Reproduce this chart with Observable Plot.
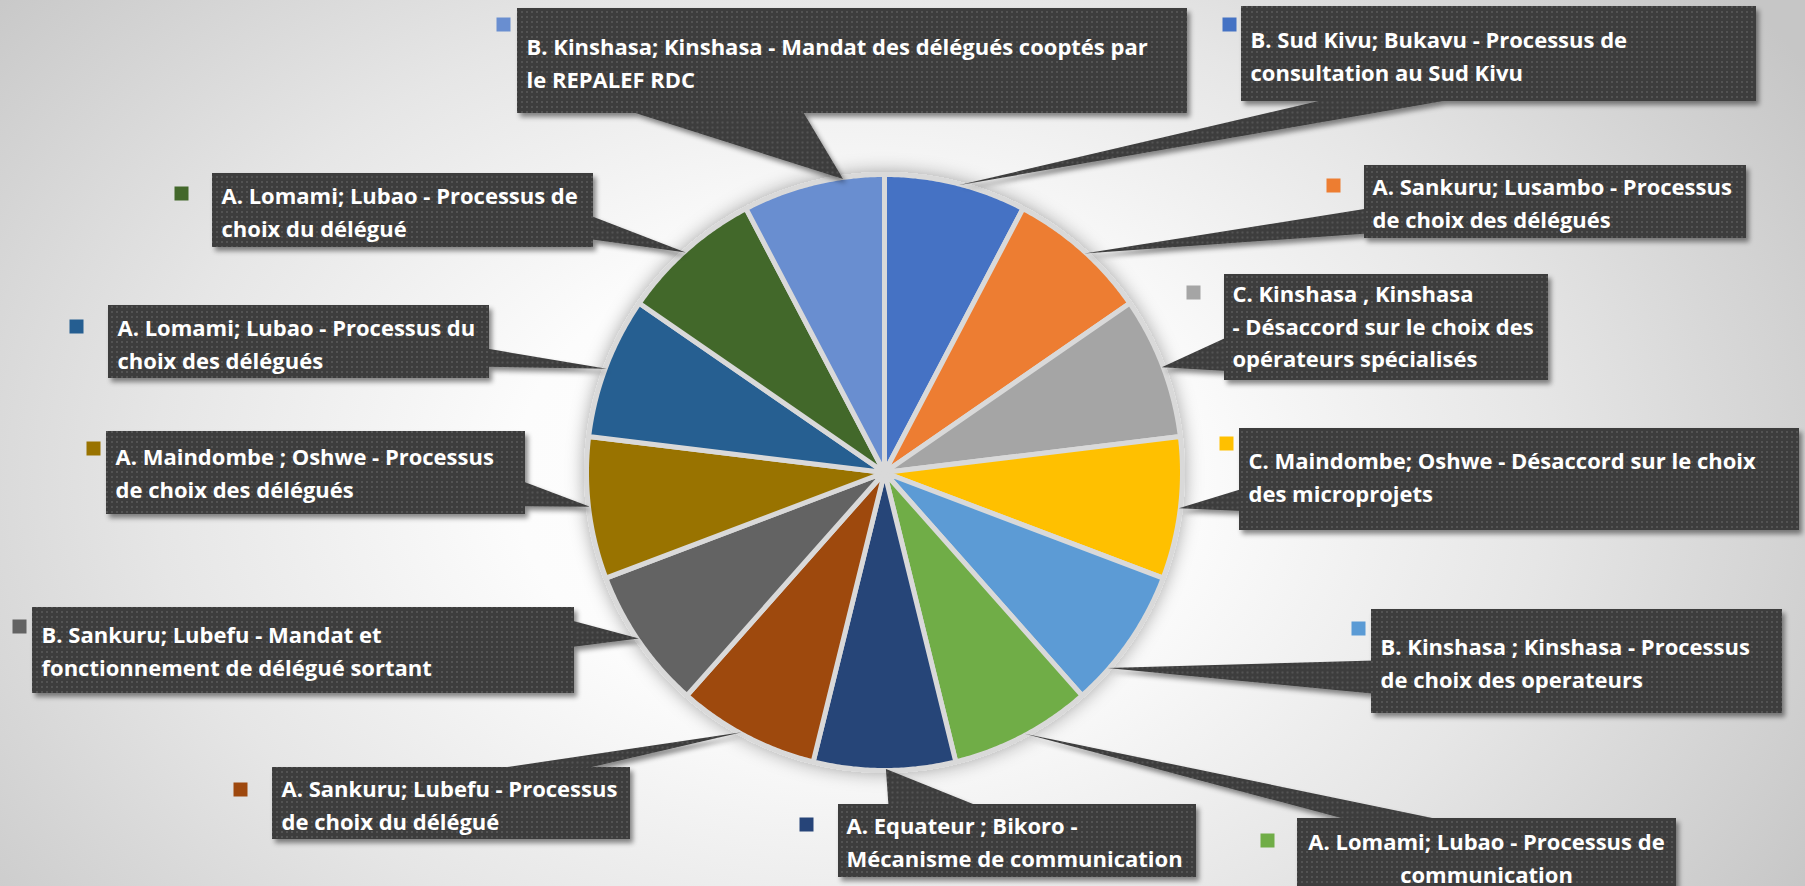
<!DOCTYPE html>
<html>
<head>
<meta charset="utf-8">
<script src="https://cdn.jsdelivr.net/npm/d3@7"></script>
<script src="https://cdn.jsdelivr.net/npm/@observablehq/plot@0.6"></script>
<style>
  html, body { margin: 0; padding: 0; width: 1805px; height: 886px; overflow: hidden; }
  body {
    background: radial-gradient(ellipse 1120px 800px at 850px 480px, #ffffff 0%, #fcfcfc 30%, #e6e6e6 62%, #c6c6c6 100%);
  }
  #chart svg { display: block; }
</style>
</head>
<body>
<div id="chart"></div>
<script>
// ---- data ----
const labels = [
  "B. Sud Kivu; Bukavu - Processus de\nconsultation au Sud Kivu",
  "A. Sankuru; Lusambo - Processus\nde choix des délégués",
  "C. Kinshasa , Kinshasa\n- Désaccord sur le choix des\nopérateurs spécialisés",
  "C. Maindombe; Oshwe - Désaccord sur le choix\ndes microprojets",
  "B. Kinshasa ; Kinshasa - Processus\nde choix des operateurs",
  "A. Lomami; Lubao - Processus de\ncommunication",
  "A. Equateur ; Bikoro -\nMécanisme de communication",
  "A. Sankuru; Lubefu - Processus\nde choix du délégué",
  "B. Sankuru; Lubefu - Mandat et\nfonctionnement de délégué sortant",
  "A. Maindombe ; Oshwe - Processus\nde choix des délégués",
  "A. Lomami; Lubao - Processus du\nchoix des délégués",
  "A. Lomami; Lubao - Processus de\nchoix du délégué",
  "B. Kinshasa; Kinshasa - Mandat des délégués cooptés par\nle REPALEF RDC"
];
const values = [1, 1, 1, 1, 1, 1, 1, 1, 1, 1, 1, 1, 1];
const colors = ["#4472C4", "#ED7D31", "#A5A5A5", "#FFC000", "#5B9BD5", "#70AD47",
                "#264478", "#9E480E", "#636363", "#997300", "#255E91", "#43682B", "#698ED0"];

// ---- callout layout (annotation placement, pixels) ----
const layout = [
  {box: [1241, 6, 1756, 101],   sq: [1229, 24],  tx: 1250, ty: 40,  side: "bottom", f: [0.17, 0.42], tip: 0.52},
  {box: [1364, 165, 1746, 238], sq: [1333, 185], tx: 1372, ty: 187, side: "left",   f: [0.59, 0.93], tip: 0.53},
  {box: [1224, 274, 1548, 380], sq: [1193, 292], tx: 1232, ty: 294, side: "left",   f: [0.59, 0.91], tip: 0.50},
  {box: [1239, 428, 1799, 530], sq: [1226, 443], tx: 1248, ty: 461, side: "left",   f: [0.59, 0.81], tip: 0.50},
  {box: [1371, 609, 1782, 713], sq: [1358, 628], tx: 1380, ty: 647, side: "left",   f: [0.49, 0.81], tip: 0.74},
  {box: [1297, 818, 1676, 905], sq: [1267, 840], tx: 1486, ty: 842, side: "top",    f: [0.15, 0.40], tip: 0.48, center: true},
  {box: [838, 804, 1196, 877],  sq: [806, 824],  tx: 846,  ty: 826, side: "top",    f: [0.14, 0.40], tip: 0.49},
  {box: [272, 767, 630, 839],   sq: [240, 789],  tx: 281,  ty: 789, side: "top",    f: [0.59, 0.85], tip: 0.54},
  {box: [32, 607, 574, 693],    sq: [19, 626],   tx: 41,   ty: 635, side: "right",  f: [0.15, 0.46], tip: 0.52},
  {box: [106, 431, 525, 514],   sq: [93, 448],   tx: 115,  ty: 457, side: "right",  f: [0.60, 0.90], tip: 0.51},
  {box: [108, 305, 489, 378],   sq: [76, 326],   tx: 117,  ty: 328, side: "right",  f: [0.59, 0.84], tip: 0.49},
  {box: [212, 173, 593, 247],   sq: [181, 193],  tx: 221,  ty: 196, side: "right",  f: [0.57, 0.89], tip: 0.48},
  {box: [517, 8, 1187, 113],    sq: [503, 24],   tx: 526,  ty: 47,  side: "bottom", f: [0.164, 0.425], tip: 0.71}
];

// ---- geometry ----
const W = 1805, H = 886;
const cx = 884, cy = 472, R = 298;          // pie centre and radius in pixels
const toX = px => (px - cx) / R;
const toY = py => (cy - py) / R;

const arcs = d3.pie().sort(null).value(d => d)(values);

const slicePts = [];
arcs.forEach((a, i) => {
  slicePts.push({i, x: 0, y: 0, c: colors[i]});
  const n = 60;
  for (let k = 0; k <= n; k++) {
    const t = a.startAngle + (a.endAngle - a.startAngle) * k / n;
    slicePts.push({i, x: Math.sin(t), y: Math.cos(t), c: colors[i]});
  }
});

const pointerPts = [];
layout.forEach((L, i) => {
  const [x1, y1, x2, y2] = L.box;
  const w = x2 - x1, h = y2 - y1;
  let b0, b1;
  if (L.side === "bottom") { b0 = [x1 + L.f[0] * w, y2 - 3]; b1 = [x1 + L.f[1] * w, y2 - 3]; }
  else if (L.side === "top") { b0 = [x1 + L.f[0] * w, y1 + 3]; b1 = [x1 + L.f[1] * w, y1 + 3]; }
  else if (L.side === "left") { b0 = [x1 + 3, y1 + L.f[0] * h]; b1 = [x1 + 3, y1 + L.f[1] * h]; }
  else { b0 = [x2 - 3, y1 + L.f[0] * h]; b1 = [x2 - 3, y1 + L.f[1] * h]; }
  const a = arcs[i];
  const t = a.startAngle + (a.endAngle - a.startAngle) * L.tip;
  pointerPts.push({i, x: toX(b0[0]), y: toY(b0[1])});
  pointerPts.push({i, x: toX(b1[0]), y: toY(b1[1])});
  pointerPts.push({i, x: Math.sin(t) * 0.995, y: Math.cos(t) * 0.995});
});

const labelData = layout.map((L, i) => ({
  i, text: labels[i], c: colors[i],
  x: toX(L.tx), y: toY(L.ty - 15.5),
  sx: toX(L.sq[0]), sy: toY(L.sq[1]),
  x1: toX(L.box[0]), x2: toX(L.box[2]), y1: toY(L.box[3]), y2: toY(L.box[1]),
  center: !!L.center
}));

const font = "'Open Sans', 'Liberation Sans', sans-serif";
const textOpts = {
  x: "x", y: "y", text: "text", fill: "white", fontSize: 22, fontWeight: 700,
  fontFamily: font, lineAnchor: "top", lineHeight: 1.48
};

const svg = Plot.plot({
  width: W, height: H, margin: 0,
  x: {domain: [toX(0), toX(W)], axis: null},
  y: {domain: [toY(H), toY(0)], axis: null},
  color: {type: "identity"},
  style: {background: "transparent", overflow: "visible"},
  marks: [
    Plot.line(slicePts, {x: "x", y: "y", z: "i", fill: "c", stroke: "#d9d9d9", strokeWidth: 5,
      strokeLinejoin: "round", curve: "linear-closed"}),
    Plot.line(pointerPts, {x: "x", y: "y", z: "i", fill: "url(#dots)", stroke: "none",
      curve: "linear-closed"}),
    Plot.rect(labelData, {x1: "x1", x2: "x2", y1: "y1", y2: "y2", fill: "url(#dots)"}),
    Plot.text(labelData.filter(d => !d.center), {...textOpts, textAnchor: "start"}),
    Plot.text(labelData.filter(d => d.center), {...textOpts, textAnchor: "middle"}),
    Plot.dot(labelData, {x: "sx", y: "sy", symbol: "square", r: 7.9, fill: "c", stroke: "none"})
  ]
});

// pattern + shadows
const s = d3.select(svg);
const defs = s.insert("defs", ":first-child");
const pat = defs.append("pattern").attr("id", "dots").attr("patternUnits", "userSpaceOnUse")
  .attr("width", 5).attr("height", 5);
pat.append("rect").attr("width", 5).attr("height", 5).attr("fill", "#3c3c3c");
pat.append("rect").attr("x", 1).attr("y", 1).attr("width", 2).attr("height", 2).attr("fill", "#535353");

const f1 = defs.append("filter").attr("id", "boxShadow").attr("x", "-10%").attr("y", "-10%")
  .attr("width", "130%").attr("height", "140%");
f1.append("feDropShadow").attr("dx", 3).attr("dy", 4).attr("stdDeviation", 2.5)
  .attr("flood-color", "#000").attr("flood-opacity", 0.45);
const f2 = defs.append("filter").attr("id", "pieShadow").attr("x", "-20%").attr("y", "-20%")
  .attr("width", "140%").attr("height", "140%");
f2.append("feDropShadow").attr("dx", 0).attr("dy", 0).attr("stdDeviation", 9)
  .attr("flood-color", "#000").attr("flood-opacity", 0.35);

const lineGroups = svg.querySelectorAll('g[aria-label="line"]');
const rectGroup = svg.querySelector('g[aria-label="rect"]');
if (lineGroups.length >= 2 && rectGroup) {
  lineGroups[0].setAttribute("filter", "url(#pieShadow)");
  const pg = lineGroups[1];
  const wrap = document.createElementNS("http://www.w3.org/2000/svg", "g");
  wrap.setAttribute("filter", "url(#boxShadow)");
  pg.parentNode.insertBefore(wrap, pg);
  wrap.appendChild(pg);
  wrap.appendChild(rectGroup);
}

document.getElementById("chart").appendChild(svg);
</script>
</body>
</html>
